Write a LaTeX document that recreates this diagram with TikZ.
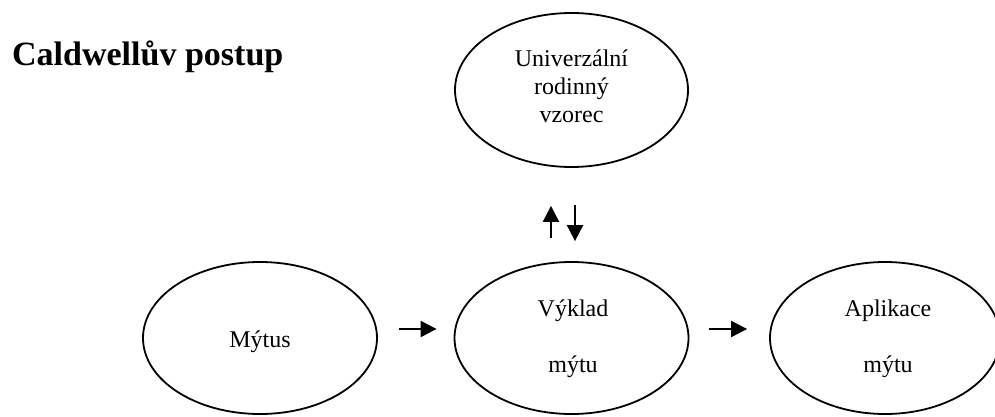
\documentclass[tikz,border=0pt]{standalone}
\usepackage{fontspec}
\setmainfont{Liberation Serif}
\usetikzlibrary{shapes.geometric,arrows.meta}
\begin{document}
\begin{tikzpicture}[x=1pt,y=-1pt,
  oval/.style={draw,ellipse,line width=1.8pt,inner sep=0pt},
  lbl/.style={anchor=base,inner sep=0pt,font=\fontsize{24}{28}\selectfont},
  arr/.style={line width=2pt,-{Triangle[length=16pt,width=16pt]}}]
\useasboundingbox (0,0) rectangle (995,417);
\clip (0,0) rectangle (995,417);
\fill[white] (0,0) rectangle (995,417);
\node[anchor=base west,inner sep=0pt,font=\fontsize{34}{40}\selectfont\bfseries] (title) at (12,66) {Caldwellův postup};
\node[oval,minimum width=233pt,minimum height=154pt] (u) at (571.5,90) {};
\node[oval,minimum width=234pt,minimum height=152pt] (m) at (260,338) {};
\node[oval,minimum width=234pt,minimum height=152pt] (v) at (571.5,338) {};
\node[oval,minimum width=230pt,minimum height=152pt] (a) at (885,338) {};
\node[lbl] (u1) at (571.5,67) {Univerzální};
\node[lbl] (u2) at (571.5,95) {rodinný};
\node[lbl] (u3) at (571.5,122) {vzorec};
\node[lbl] (mt) at (260,347) {Mýtus};
\node[lbl] (v1) at (573,316) {Výklad};
\node[lbl] (v2) at (573,372) {mýtu};
\node[lbl] (a1) at (888,316) {Aplikace};
\node[lbl] (a2) at (888,372) {mýtu};
\draw[arr] ([xshift=21pt,yshift=9pt]m.east) -- ([xshift=-17pt,yshift=9pt]v.west);
\draw[arr] ([xshift=20pt,yshift=9pt]v.east) -- ([xshift=-22pt,yshift=9pt]a.west);
\draw[arr] ([xshift=-20.5pt,yshift=23pt]v.north) -- ([xshift=-20.5pt,yshift=-38pt]u.south);
\draw[arr] ([xshift=3.5pt,yshift=-37pt]u.south) -- ([xshift=3.5pt,yshift=20pt]v.north);
\end{tikzpicture}
\end{document}
